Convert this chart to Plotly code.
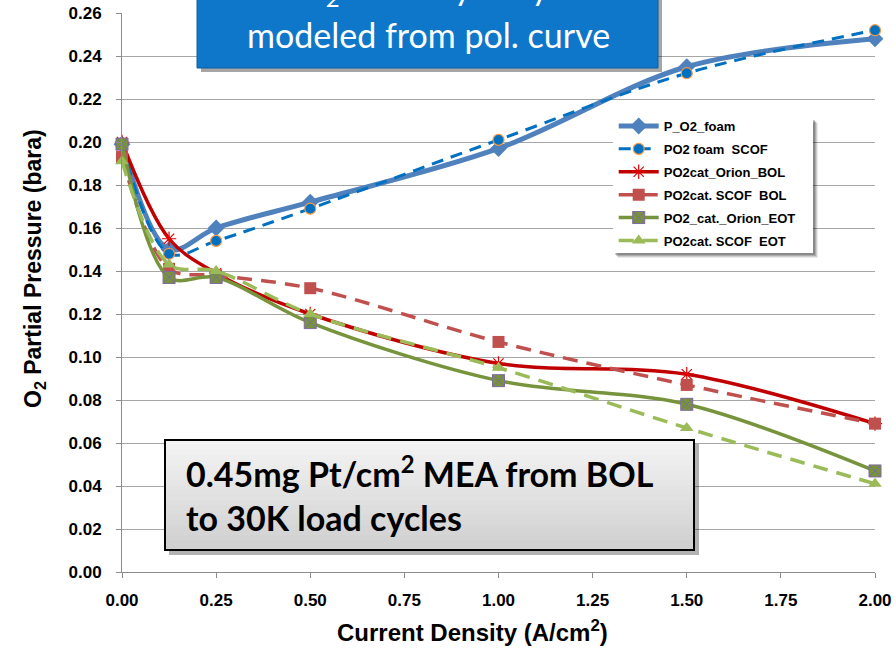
import plotly.graph_objects as go

# Current density (A/cm2)
current_density = [0.0, 0.125, 0.25, 0.5, 1.0, 1.5, 2.0]

# O2 partial pressure (bara) per series
p_o2_foam = [0.199, 0.150, 0.160, 0.172, 0.197, 0.235, 0.248]
po2_foam_scof = [0.199, 0.148, 0.154, 0.169, 0.201, 0.232, 0.252]
po2cat_orion_bol = [0.200, 0.155, 0.139, 0.120, 0.097, 0.092, 0.069]
po2cat_scof_bol = [0.193, 0.141, 0.138, 0.132, 0.107, 0.087, 0.069]
po2_cat_orion_eot = [0.199, 0.137, 0.137, 0.116, 0.089, 0.078, 0.047]
po2cat_scof_eot = [0.191, 0.143, 0.140, 0.120, 0.095, 0.067, 0.041]

y_ticks = [0.00, 0.02, 0.04, 0.06, 0.08, 0.10, 0.12, 0.14, 0.16, 0.18, 0.20, 0.22, 0.24, 0.26]
x_ticks = [0.00, 0.25, 0.50, 0.75, 1.00, 1.25, 1.50, 1.75, 2.00]

series = [
    dict(name="P_O2_foam", y=p_o2_foam, color="#4F81BD", width=5, dash="solid",
         symbol="diamond", size=13, mcolor="#4F81BD", mline="#4F81BD", mlw=0),
    dict(name="PO2 foam  SCOF", y=po2_foam_scof, color="#0070C0", width=3, dash="12px,8px",
         symbol="circle", size=11, mcolor="#0070C0", mline="#F79646", mlw=1.2),
    dict(name="PO2cat_Orion_BOL", y=po2cat_orion_bol, color="#C00000", width=3.5, dash="solid",
         symbol="asterisk-open", size=12, mcolor="#E00000", mline="#E00000", mlw=1.2),
    dict(name="PO2cat. SCOF  BOL", y=po2cat_scof_bol, color="#C0504D", width=3.5, dash="15px,9px",
         symbol="square", size=12, mcolor="#C0504D", mline="#C0504D", mlw=0),
    dict(name="PO2_cat._Orion_EOT", y=po2_cat_orion_eot, color="#77933C", width=3.5, dash="solid",
         symbol="square-x", size=12, mcolor="#77933C", mline="#7F6A9E", mlw=1),
    dict(name="PO2cat. SCOF  EOT", y=po2cat_scof_eot, color="#9BBB59", width=3.5, dash="15px,9px",
         symbol="triangle-up", size=12, mcolor="#9BBB59", mline="#9BBB59", mlw=0),
]

fig = go.Figure()
for i, s in enumerate(series):
    fig.add_trace(go.Scatter(
        x=current_density, y=s["y"], name=s["name"], mode="lines+markers",
        legendgroup=f"g{i}",
        line=dict(color=s["color"], width=s["width"], dash=s["dash"], shape="spline", smoothing=0.95),
        marker=dict(symbol=s["symbol"], size=s["size"], color=s["mcolor"],
                    line=dict(color=s["mline"], width=s["mlw"])),
        cliponaxis=False,
    ))

label_font = "Liberation Sans, Arial, sans-serif"

fig.update_layout(
    width=895, height=648,
    margin=dict(l=122, r=20, t=13, b=76, autoexpand=False),
    paper_bgcolor="white", plot_bgcolor="white",
    showlegend=True,
    legend=dict(
        x=0.653, y=0.8247, xanchor="left", yanchor="top",
        bgcolor="rgba(0,0,0,0)", borderwidth=0,
        font=dict(family=label_font, size=13, color="#000000", weight="bold"),
        tracegroupgap=3, traceorder="grouped", itemwidth=40,
    ),
    xaxis=dict(
        range=[0, 2.0], tickvals=x_ticks, ticktext=[f"{v:.2f}" for v in x_ticks],
        showgrid=False, zeroline=False, showline=True, linecolor="#8C8C8C", linewidth=1,
        ticks="outside", ticklen=5, tickcolor="#8C8C8C", automargin=False,
        tickfont=dict(family=label_font, size=17, color="#000000", weight="bold"),
        ticklabelstandoff=8,
    ),
    yaxis=dict(
        range=[0, 0.26], tickvals=y_ticks, ticktext=[f"{v:.2f}" for v in y_ticks],
        showgrid=True, gridcolor="#A6A6A6", gridwidth=1, zeroline=False,
        showline=True, linecolor="#8C8C8C", linewidth=1,
        ticks="outside", ticklen=5, tickcolor="#8C8C8C", automargin=False,
        tickfont=dict(family=label_font, size=17, color="#000000", weight="bold"),
        ticklabelstandoff=11,
    ),
)


def px_x(p):
    return (p - 122) / 753.0


def px_y(p):
    return (572 - p) / 559.0


# Axis titles
fig.add_annotation(
    xref="paper", yref="paper", x=px_x(34), y=px_y(269), xanchor="center", yanchor="middle",
    textangle=-90, showarrow=False,
    text="O<sub>2</sub> Partial Pressure (bara)",
    font=dict(family=label_font, size=23, color="#000000", weight="bold"),
)
fig.add_annotation(
    xref="paper", yref="paper", x=px_x(472), y=px_y(631), xanchor="center", yanchor="middle",
    showarrow=False,
    text="Current Density (A/cm<sup>2</sup>)",
    font=dict(family=label_font, size=24, color="#000000", weight="bold"),
)

# Legend panel with a soft drop shadow
for off, alpha in [(5, 0.08), (4, 0.12), (3, 0.16), (2, 0.2)]:
    fig.add_shape(type="rect", xref="paper", yref="paper",
                  x0=px_x(613 + off), x1=px_x(813 + off), y0=px_y(253 + off), y1=px_y(118 + off),
                  fillcolor=f"rgba(0,0,0,{alpha})", line=dict(width=0), layer="above")
fig.add_shape(type="rect", xref="paper", yref="paper",
              x0=px_x(613), x1=px_x(813), y0=px_y(253), y1=px_y(118),
              fillcolor="white", line=dict(width=0), layer="above")

# Blue callout box at the top
fig.add_shape(type="rect", xref="paper", yref="paper",
              x0=px_x(201), x1=px_x(662), y0=px_y(72), y1=px_y(-40),
              fillcolor="rgba(0,0,0,0.35)", line=dict(width=0), layer="above")
fig.add_shape(type="rect", xref="paper", yref="paper",
              x0=px_x(197), x1=px_x(658), y0=px_y(68), y1=px_y(-40),
              fillcolor="#0E77C9", line=dict(color="#0A5EA3", width=1), layer="above")
callout_font = dict(family="Lato, Open Sans, sans-serif", size=34, color="white")
fig.add_annotation(
    xref="paper", yref="paper", x=px_x(428), y=px_y(-11), xanchor="center", yanchor="middle",
    showarrow=False, align="center",
    text="PO<sub>2</sub> in catalyst layer",
    font=callout_font,
)
fig.add_annotation(
    xref="paper", yref="paper", x=px_x(428), y=px_y(34), xanchor="center", yanchor="middle",
    showarrow=False, align="center",
    text="modeled from pol. curve",
    font=callout_font,
)

# Grey note box at the bottom, with a vertical gradient
fig.add_shape(type="rect", xref="paper", yref="paper",
              x0=px_x(169), x1=px_x(699), y0=px_y(555), y1=px_y(444),
              fillcolor="rgba(0,0,0,0.3)", line=dict(width=0), layer="above")
top_px, bot_px, n_bands = 440, 550, 22
for k in range(n_bands):
    t = k / (n_bands - 1)
    g = int(244 - t * (244 - 208))
    y_top = top_px + (bot_px - top_px) * k / n_bands
    y_bot = top_px + (bot_px - top_px) * (k + 1) / n_bands + 0.6
    fig.add_shape(type="rect", xref="paper", yref="paper",
                  x0=px_x(165), x1=px_x(694), y0=px_y(min(y_bot, bot_px)), y1=px_y(y_top),
                  fillcolor=f"rgb({g},{g},{g})", line=dict(width=0), layer="above")
fig.add_shape(type="rect", xref="paper", yref="paper",
              x0=px_x(165), x1=px_x(694), y0=px_y(550), y1=px_y(440),
              fillcolor="rgba(0,0,0,0)", line=dict(color="#000000", width=2), layer="above")
fig.add_annotation(
    xref="paper", yref="paper", x=px_x(184), y=px_y(494), xanchor="left", yanchor="middle",
    showarrow=False, align="left",
    text="0.45mg Pt/cm<sup>2</sup> MEA from BOL<br>to 30K load cycles",
    font=dict(family="Lato, Open Sans, sans-serif", size=34, color="#000000", weight="bold"),
)

fig.write_html("out.html")
